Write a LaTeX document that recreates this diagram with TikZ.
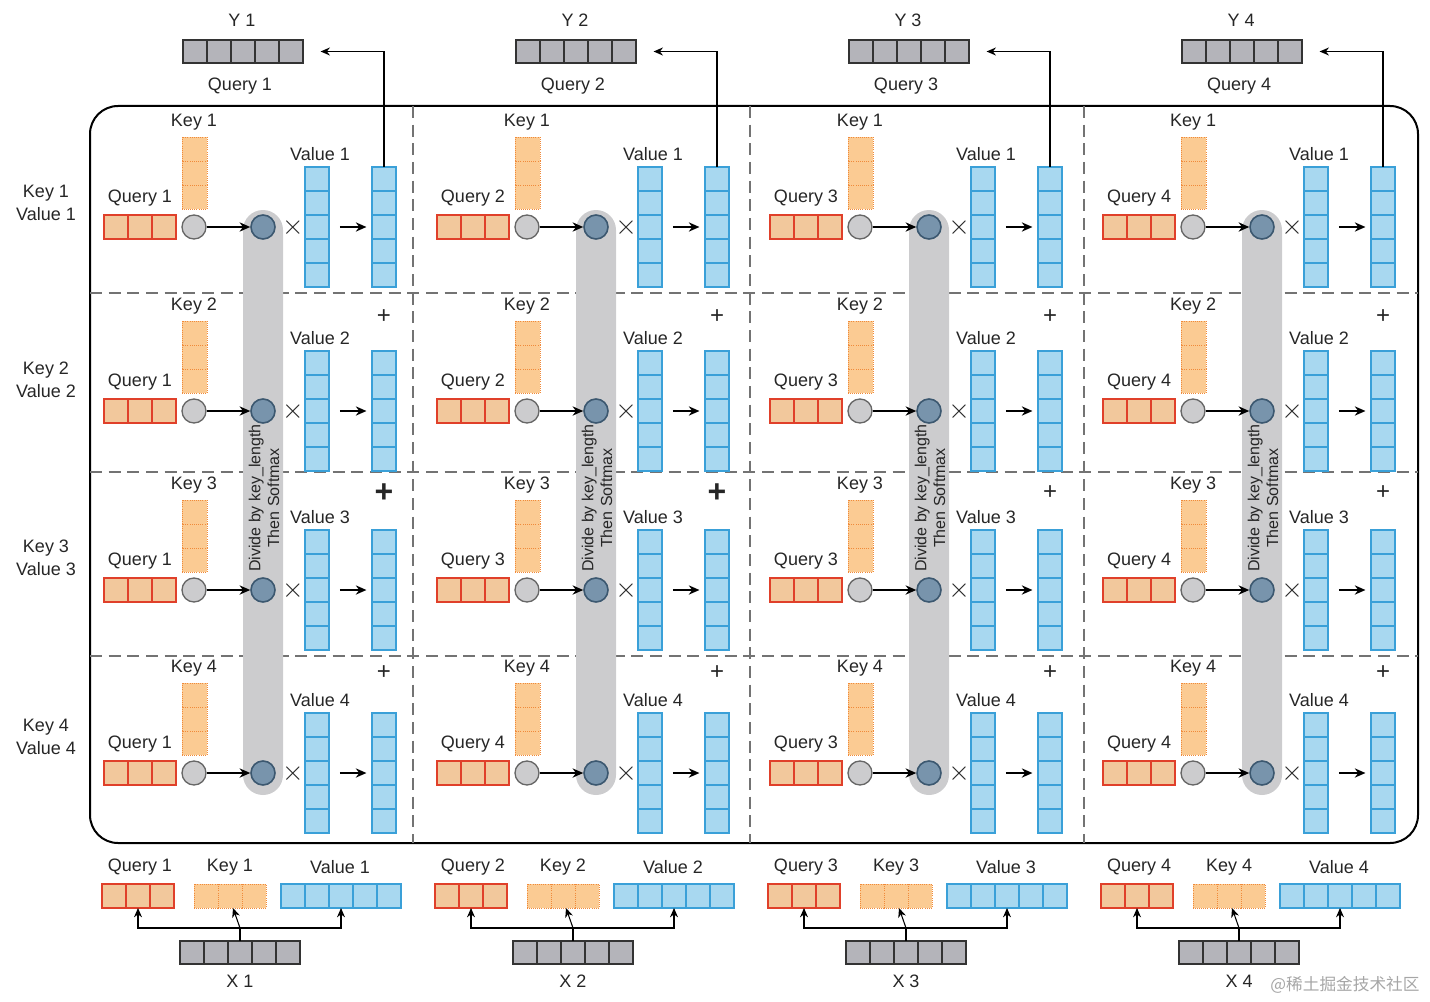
\documentclass[tikz,border=0pt]{standalone}
\usepackage{fontspec}
\setmainfont{Liberation Sans}
\newfontfamily\cjk{Noto Sans CJK SC}
\usetikzlibrary{arrows.meta,calc}
\definecolor{qred}{HTML}{E0402A}
\definecolor{qfill}{HTML}{F2C89C}
\definecolor{kor}{HTML}{F08A3A}
\definecolor{kfill}{HTML}{FBCB93}
\definecolor{vblue}{HTML}{3AA0D8}
\definecolor{vfill}{HTML}{A8D8F0}
\definecolor{xgray}{HTML}{B4B4BA}
\definecolor{pill}{HTML}{CCCCCE}
\definecolor{bcirc}{HTML}{7894AC}
\definecolor{bcircd}{HTML}{3C5870}
\tikzset{
 qcell/.style={draw=qred,fill=qfill,line width=1.3pt},
 kcell/.style={draw=kor,fill=kfill,densely dotted,line width=0.6pt},
 vcell/.style={draw=vblue,fill=vfill,line width=1.3pt},
 xcell/.style={draw=black!80,fill=xgray,line width=1.1pt},
 lab/.style={font=\fontsize{13.5}{15}\selectfont,text=black!85,inner sep=0pt},
 arr/.style={-{Stealth[length=8pt,width=7pt]},line width=1pt},
 sarr/.style={-{Stealth[length=7pt,width=6pt]},line width=0.8pt},
 gdash/.style={draw=black!55,line width=1.1pt,dash pattern=on 9pt off 5pt},
}
\begin{document}
\begin{tikzpicture}[x=0.75pt,y=-0.75pt]
\useasboundingbox (0,0) rectangle (1430,1002);
% frame
\draw[line width=1.5pt,rounded corners=21pt] (90,106) rectangle (1418,843);
\foreach \yy in {293,472,656} \draw[gdash] (90,\yy) -- (1418,\yy);
\foreach \xx in {413,750,1084} \draw[gdash] (\xx,106) -- (\xx,843);
% left labels
\foreach \r/\yy in {1/203,2/380,3/558,4/737}
  \node[lab,align=center] (L\r) at (46,\yy) {Key \r\\[2pt]Value \r};
\foreach \c/\qa/\qb/\qc/\qd in {0/1/1/1/1,1/2/2/3/4,2/3/3/3/3,3/4/4/4/4}{
 \pgfmathsetmacro\ox{\c*333}
 \pgfmathtruncatemacro\cn{\c+1}
 % pill
 \fill[pill,rounded corners=15pt] (243+\ox,210) rectangle (283+\ox,795);
 \node[lab,rotate=90,align=center,font=\fontsize{12}{14}\selectfont] (P\c) at (264+\ox,498) {Divide by key\_length\\Then Softmax};
 \foreach \r/\cy/\qn in {0/227/\qa,1/411/\qb,2/590/\qc,3/773/\qd}{
  \pgfmathtruncatemacro\rn{\r+1}
  \node[lab] (kl\c\r) at (194+\ox,\cy-105) {Key \rn};
  \foreach \i in {0,1,2} \draw[kcell] (182+\ox,\cy-90+\i*24) rectangle ++(25,24);
  \node[lab] (ql\c\r) at (140+\ox,\cy-29) {Query \qn};
  \foreach \i in {0,1,2} \draw[qcell] (104+\ox+\i*24,\cy-12) rectangle ++(24,24);
  \node[circle,draw=black!60,fill=pill,line width=1pt,minimum size=18pt,inner sep=0] (g\c\r) at (194+\ox,\cy) {};
  \node[circle,draw=bcircd,fill=bcirc,line width=1.2pt,minimum size=18pt,inner sep=0] (b\c\r) at (263+\ox,\cy) {};
  \draw[arr] (g\c\r) -- (b\c\r);
  \node[lab,font=\fontsize{20}{20}\selectfont] (x\c\r) at (293+\ox,\cy+1) {$\times$};
  \node[lab] (vl\c\r) at (320+\ox,\cy-73) {Value \rn};
  \node[inner sep=0,minimum width=18pt,minimum height=90pt] (v\c\r) at (317+\ox,\cy) {};
  \node[inner sep=0,minimum width=18pt,minimum height=90pt] (o\c\r) at (384+\ox,\cy) {};
  \foreach \i in {0,...,4}{
   \draw[vcell] (305+\ox,\cy-60+\i*24) rectangle ++(24,24);
   \draw[vcell] (372+\ox,\cy-60+\i*24) rectangle ++(24,24);
  }
  \draw[arr] ([xshift=8pt]v\c\r.east) -- ([xshift=-4pt]o\c\r.west);
 }
 \foreach \r/\yy in {1/317,2/493,3/673}{
  \ifnum\c<2 \ifnum\r=2
   \node[lab,font=\fontsize{24}{24}\bfseries\selectfont] (pl\c\r) at (384+\ox,\yy) {+};
  \else
   \node[lab,font=\fontsize{18}{18}\selectfont] (pl\c\r) at (384+\ox,\yy) {+};
  \fi\else
   \node[lab,font=\fontsize{18}{18}\selectfont] (pl\c\r) at (384+\ox,\yy) {+};
  \fi
 }
 % top
 \node[lab] (yl\c) at (242+\ox,20) {Y \cn};
 \foreach \i in {0,...,4} \draw[xcell] (183+\ox+\i*24,40) rectangle ++(24,23);
 \node[inner sep=0,minimum width=90pt,minimum height=17pt] (yv\c) at (243+\ox,51.5) {};
 \node[lab] (tq\c) at (240+\ox,86) {Query \cn};
 \draw[sarr] (o\c0.north) |- ([xshift=13pt]yv\c.east);
 % bottom
 \node[lab] (bq\c) at (140+\ox,867) {Query \cn};
 \node[lab] (bk\c) at (230+\ox,867) {Key \cn};
 \node[lab] (bv\c) at (340+\ox,867) {Value \cn};
 \foreach \i in {0,1,2}{
  \draw[qcell] (102+\ox+\i*24,884) rectangle ++(24,24);
  \draw[kcell] (194+\ox+\i*24,884) rectangle ++(24,24);
 }
 \foreach \i in {0,...,4}{
  \draw[vcell] (281+\ox+\i*24,884) rectangle ++(24,24);
  \draw[xcell] (180+\ox+\i*24,941) rectangle ++(24,23);
 }
 \node[inner sep=0,minimum width=90pt,minimum height=17pt] (xv\c) at (240+\ox,952.5) {};
 \node[lab] (xl\c) at (240+\ox,981) {X \cn};
 \coordinate (j\c) at (240+\ox,928);
 \coordinate (ja\c) at (138+\ox,908);
 \coordinate (jb\c) at (233+\ox,908);
 \coordinate (jc\c) at (341+\ox,908);
 \draw[line width=0.9pt] (xv\c.north) -- (j\c);
 \draw[sarr] (j\c) -| (ja\c);
 \draw[sarr] (j\c) -| (jc\c);
 \draw[sarr] (j\c) -- (jb\c);
}
\node[lab,font=\cjk\fontsize{12.5}{14}\selectfont,text=black!35] (wm) at (1345,985) {@稀土掘金技术社区};
\end{tikzpicture}
\end{document}
